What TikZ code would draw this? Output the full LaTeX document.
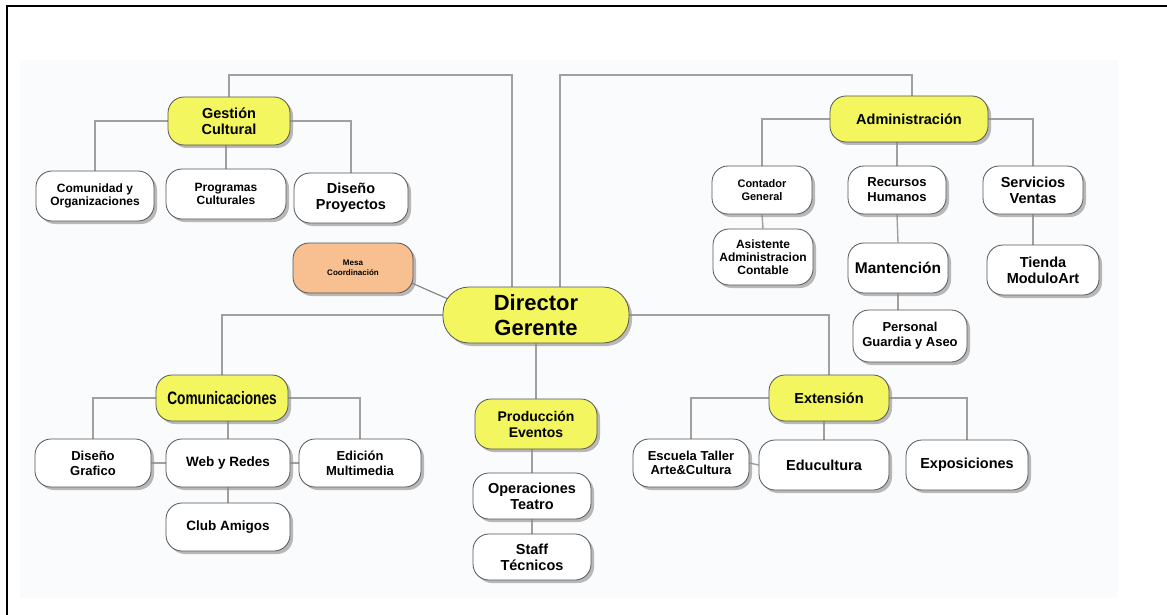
\documentclass[tikz,border=0pt]{standalone}
\usepackage{fontspec}
\setmainfont{Liberation Sans}
\usetikzlibrary{shadows,calc}
\pgfdeclarelayer{panel}
\pgfdeclarelayer{lines}
\pgfsetlayers{panel,lines,main}
\definecolor{ybox}{RGB}{243,246,94}
\definecolor{obox}{RGB}{248,192,144}
\definecolor{bord}{RGB}{85,85,85}
\definecolor{conncol}{RGB}{160,160,160}
\definecolor{panelcol}{RGB}{250,251,253}
\tikzset{
  base/.style={draw=bord, line width=0.8pt, rounded corners=16pt, align=center,
    inner sep=2pt, font=\bfseries\fontsize{12}{13.5}\selectfont,
    drop shadow={shadow xshift=3pt, shadow yshift=-3pt, fill=black!45, opacity=0.6}},
  wbox/.style={base, fill=white},
  ybx/.style={base, fill=ybox},
  obx/.style={base, fill=obox},
  conn/.style={draw=conncol, line width=1.4pt},
  fbig/.style={font=\bfseries\fontsize{14.5}{16}\selectfont},
}
\begin{document}
\begin{tikzpicture}[x=1pt,y=-1pt]
\useasboundingbox (0,0) rectangle (1167,615);
\begin{pgfonlayer}{panel}
\fill[panelcol] (20,60) rectangle (1118,598);
\draw[black, line width=1.3pt] (7,615) -- (7,6) -- (1167,6);
\end{pgfonlayer}

% Gestion Cultural branch
\node[ybx, fbig, minimum width=122pt, minimum height=48pt] (gest) at (229,121) {Gestión\\Cultural};
\node[wbox, minimum width=118pt, minimum height=50pt] (comorg) at (95,196) {Comunidad y\\Organizaciones};
\node[wbox, minimum width=120pt, minimum height=50pt] (prog) at (226,194) {Programas\\Culturales};
\node[wbox, fbig, minimum width=114pt, minimum height=50pt] (dproy) at (351,198) {Diseño\\Proyectos};

% Mesa & Director
\node[obx, minimum width=120pt, minimum height=50pt, font=\bfseries\fontsize{8}{10}\selectfont] (mesa) at (353,268) {Mesa\\Coordinación};
\node[ybx, minimum width=186pt, minimum height=56pt, rounded corners=26pt, font=\bfseries\fontsize{22}{25}\selectfont] (dir) at (536,315) {Director\\Gerente};

% Comunicaciones branch
\node[ybx, minimum width=132pt, minimum height=46pt, font=\bfseries\fontsize{18}{18}\selectfont] (comu) at (222,398) {\scalebox{0.76}[1]{Comunicaciones}};
\node[wbox, font=\bfseries\fontsize{13}{15}\selectfont, minimum width=116pt, minimum height=48pt] (dg) at (93,463) {Diseño\\Grafico};
\node[wbox, font=\bfseries\fontsize{13.5}{14}\selectfont, minimum width=124pt, minimum height=48pt] (web) at (228,463) {Web y Redes};
\node[wbox, font=\bfseries\fontsize{13}{15}\selectfont, minimum width=122pt, minimum height=48pt] (edm) at (360,463) {Edición\\Multimedia};
\node[wbox, font=\bfseries\fontsize{13.5}{14}\selectfont, minimum width=124pt, minimum height=48pt] (club) at (228,527) {Club Amigos};

% Produccion branch
\node[ybx, font=\bfseries\fontsize{14}{16}\selectfont, minimum width=122pt, minimum height=50pt] (prod) at (536,424) {Producción\\Eventos};
\node[wbox, fbig, minimum width=118pt, minimum height=46pt] (oper) at (532,496) {Operaciones\\Teatro};
\node[wbox, fbig, minimum width=118pt, minimum height=46pt] (staff) at (532,557) {Staff\\Técnicos};

% Extension branch
\node[ybx, fbig, minimum width=120pt, minimum height=46pt] (ext) at (829,398) {Extensión};
\node[wbox, font=\bfseries\fontsize{13}{14}\selectfont, minimum width=116pt, minimum height=48pt] (esc) at (691,463) {Escuela Taller\\Arte\&Cultura};
\node[wbox, fbig, minimum width=130pt, minimum height=50pt] (edu) at (824,465) {Educultura};
\node[wbox, fbig, minimum width=122pt, minimum height=50pt] (expo) at (967,465) {Exposiciones};

% Administracion branch
\node[ybx, fbig, minimum width=158pt, minimum height=46pt] (adm) at (909,119) {Administración};
\node[wbox, font=\bfseries\fontsize{11}{13}\selectfont, minimum width=100pt, minimum height=48pt] (cont) at (762,190) {Contador\\General};
\node[wbox, font=\bfseries\fontsize{13}{15}\selectfont, minimum width=98pt, minimum height=48pt] (rrhh) at (897,190) {Recursos\\Humanos};
\node[wbox, fbig, minimum width=100pt, minimum height=48pt] (serv) at (1033,190) {Servicios\\Ventas};
\node[wbox, font=\bfseries\fontsize{12}{13}\selectfont, minimum width=100pt, minimum height=56pt] (asis) at (763,257) {Asistente\\Administracion\\Contable};
\node[wbox, font=\bfseries\fontsize{15.5}{16}\selectfont, minimum width=100pt, minimum height=50pt] (mant) at (898,268) {Mantención};
\node[wbox, fbig, minimum width=112pt, minimum height=50pt] (tienda) at (1043,270) {Tienda\\ModuloArt};
\node[wbox, font=\bfseries\fontsize{13}{15}\selectfont, minimum width=114pt, minimum height=52pt] (pers) at (910,336) {Personal\\Guardia y Aseo};

\coordinate (tl) at (512,75);
\coordinate (tr) at (560,75);
\coordinate (tra) at (912,75);
\coordinate (mesaend) at ($(mesa.east)+(-4,14)$);
\coordinate (dirend) at ($(dir.west)+(10,-14)$);

\begin{pgfonlayer}{lines}
% top connections
\draw[conn] (gest.north) |- (tl) -- (tl |- dir.north);
\draw[conn] (tr |- dir.north) -- (tr) -- (tra) -- (tra |- adm.north);
% gestion
\draw[conn] (gest.west) -| (comorg.north);
\draw[conn] (gest.east) -| (dproy.north);
\draw[conn] (prog.north) -- (prog.north |- gest.south);
% mesa
\draw[line width=1.1pt, draw=gray] (mesaend) -- (dirend);
% director
\draw[conn] (dir.west) -| (comu.north);
\draw[conn] (dir.east) -| (ext.north);
\draw[conn] (dir.south) -- (prod.north);
% comunicaciones
\draw[conn] (comu.west) -| (dg.north);
\draw[conn] (comu.east) -| (edm.north);
\draw[conn] (web.north) -- (web.north |- comu.south);
\draw[conn] (web.south) -- (club.north);
\draw[conn] (dg.east) -- (web.west);
\draw[conn] (web.east) -- (edm.west);
% produccion
\draw[conn] (oper.north) -- (oper.north |- prod.south);
\draw[conn] (oper.south) -- (staff.north);
% extension
\draw[conn] (ext.west) -| (esc.north);
\draw[conn] (ext.east) -| (expo.north);
\draw[conn] (edu.north) -- (edu.north |- ext.south);
\draw[conn] (esc.east) -- (edu.west);
% administracion
\draw[conn] (adm.west) -| (cont.north);
\draw[conn] (adm.east) -| (serv.north);
\draw[conn] (rrhh.north) -- (rrhh.north |- adm.south);
\draw[conn] (cont.south) -- (asis.north);
\draw[conn] (rrhh.south) -- (mant.north);
\draw[conn] (mant.south) -- (mant.south |- pers.north);
\draw[conn] (serv.south) -- (serv.south |- tienda.north);
\end{pgfonlayer}
\end{tikzpicture}
\end{document}
